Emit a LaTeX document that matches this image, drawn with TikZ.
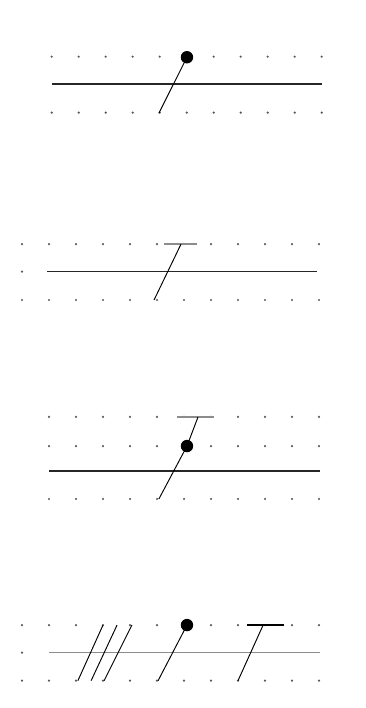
\documentclass[tikz,border=0pt]{standalone}
\usepackage{tikz}
\usetikzlibrary{calc}

\begin{document}
\begin{tikzpicture}[
  griddot/.style={fill=black!65},
  staff/.style={line width=1.7pt,black!85},
  thinstaff/.style={line width=1.3pt,black!45},
  stem/.style={line width=1pt},
  bar/.style={line width=1.4pt,black!45},
  ]
  \useasboundingbox (-0.815,0) rectangle (12.704,-26.222);

  % Panel 1: stem ending in a dot
  \foreach \x in {0,...,10} {
    \fill[griddot] (1.1+\x,-2.1) circle (0.045);
    \fill[griddot] (1.1+\x,-4.17) circle (0.045);
  }
  \coordinate (L1) at (1.1,-3.12);
  \coordinate (R1) at (11.1,-3.12);
  \coordinate (D1) at (6.11,-2.12);
  \coordinate (B1) at (5.07,-4.19);
  \draw[staff] (L1) -- (R1);
  \draw[stem] (D1) -- (B1);
  \fill (D1) circle (0.23);

  % Panel 2: stem ending in a bar
  \foreach \x in {0,...,11} {
    \fill[griddot] (\x,-9.04) circle (0.045);
    \fill[griddot] (\x,-11.11) circle (0.045);
  }
  \fill[griddot] (0,-10.06) circle (0.045);
  \coordinate (L2) at (0.93,-10.06);
  \coordinate (R2) at (10.93,-10.06);
  \coordinate (T2) at (5.89,-9.04);
  \coordinate (B2) at (4.89,-11.11);
  \draw[staff] (L2) -- (R2);
  \draw[bar] (5.26,-9.04) -- (6.48,-9.04);
  \draw[stem] (T2) -- (B2);

  % Panel 3: bar and dot on one stem
  \foreach \x in {1,...,11} {
    \fill[griddot] (\x,-15.44) circle (0.045);
    \fill[griddot] (\x,-16.52) circle (0.045);
    \fill[griddot] (\x,-18.48) circle (0.045);
  }
  \coordinate (L3) at (1,-17.44);
  \coordinate (R3) at (11.04,-17.44);
  \coordinate (T3) at (6.52,-15.44);
  \coordinate (D3) at (6.11,-16.52);
  \coordinate (B3) at (5.07,-18.48);
  \draw[staff] (L3) -- (R3);
  \draw[bar] (5.74,-15.44) -- (7.11,-15.44);
  \draw[stem] (T3) -- (D3) -- (B3);
  \fill (D3) circle (0.23);

  % Panel 4: slashes, dot and bar side by side
  \foreach \x in {0,...,11} {
    \fill[griddot] (\x,-23.15) circle (0.045);
    \fill[griddot] (\x,-25.21) circle (0.045);
  }
  \fill[griddot] (0,-24.17) circle (0.045);
  \coordinate (L4) at (1,-24.17);
  \coordinate (R4) at (11.04,-24.17);
  \draw[thinstaff] (L4) -- (R4);
  \foreach \t/\b in {3.0/2.07, 3.52/2.56, 4.07/3.04}
    \draw[stem] (\t,-23.15) -- (\b,-25.21);
  \coordinate (D4) at (6.11,-23.15);
  \coordinate (B4) at (5.04,-25.21);
  \draw[stem] (D4) -- (B4);
  \fill (D4) circle (0.23);
  \coordinate (T4) at (8.93,-23.15);
  \coordinate (E4) at (8.0,-25.21);
  \draw[line width=1.3pt] (8.33,-23.15) -- (9.70,-23.15);
  \draw[stem] (T4) -- (E4);
\end{tikzpicture}
\end{document}
